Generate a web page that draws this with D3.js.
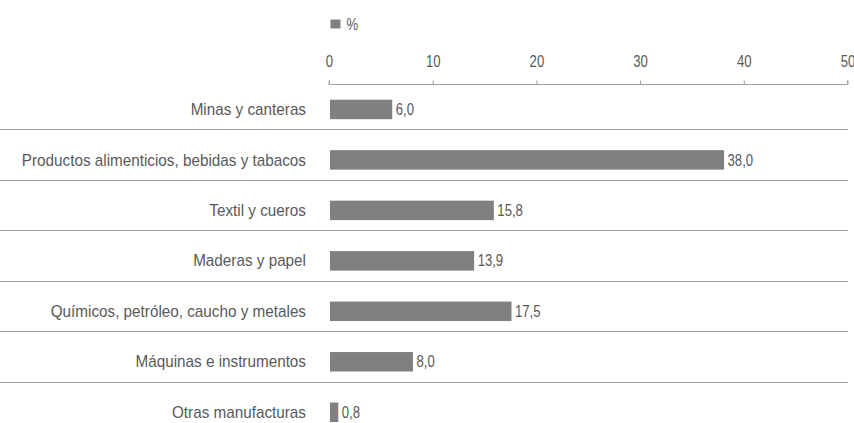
<!DOCTYPE html>
<html>
<head>
<meta charset="utf-8">
<script src="https://cdn.jsdelivr.net/npm/d3@7"></script>
<style>
  html, body { margin: 0; padding: 0; background: #ffffff; }
  svg { display: block; }
  text { font-family: "Liberation Sans", Arial, sans-serif; fill: #595959; }
</style>
</head>
<body>
<svg id="chart" width="854" height="423"></svg>
<script>
// Sector shares (%)
const categories = [
  "Minas y canteras",
  "Productos alimenticios, bebidas y tabacos",
  "Textil y cueros",
  "Maderas y papel",
  "Químicos, petróleo, caucho y metales",
  "Máquinas e instrumentos",
  "Otras manufacturas"
];
const values = [6.0, 38.0, 15.8, 13.9, 17.5, 8.0, 0.8];
const tickValues = [0, 10, 20, 30, 40, 50];
const seriesName = "%";

const svg = d3.select("#chart");
const barColor = "#808080";
const ruleColor = "#a0a0a0";
const fontSize = 16;
const numStretch = 0.82;   // condensed look for numbers
const labelStretch = 0.955;

const x = d3.scaleLinear().domain([0, 50]).range([329, 847.5]);
const y = d3.scaleBand().domain(categories).range([99.7, 422]).paddingInner(0.614).paddingOuter(0);

const fmt = v => v.toFixed(1).replace(".", ",");

// Draw a horizontally condensed text anchored at (px, py)
function condensed(sel, px, py, s) {
  sel.attr("x", 0).attr("y", 0)
     .attr("transform", (d, i) => `translate(${px(d, i)},${py(d, i)}) scale(${s},1)`);
}

// Legend
svg.append("rect").attr("x", 330.5).attr("y", 19.5).attr("width", 10).attr("height", 9).attr("fill", barColor);
svg.append("text").attr("font-size", fontSize).text(seriesName)
  .call(condensed, () => 346.5, () => 30, numStretch);

// Top axis
const axis = d3.axisTop(x).tickValues(tickValues).tickSize(4).tickPadding(0).tickFormat(d3.format("d"));
const gAxis = svg.append("g").attr("transform", "translate(0,84.5)").call(axis);
gAxis.select(".domain").attr("stroke", ruleColor).attr("d", `M${x(0)},-4V0H${x(50)}V-4`);
gAxis.selectAll(".tick line").attr("stroke", ruleColor);
gAxis.selectAll(".tick text")
  .attr("font-size", fontSize).attr("fill", "#595959")
  .style("font-family", "\"Liberation Sans\", Arial, sans-serif")
  .attr("dy", null)
  .call(condensed, () => 0, () => -17.5, numStretch);

// Separator rules between categories
svg.append("g").selectAll("line")
  .data(categories.slice(0, -1))
  .join("line")
  .attr("x1", 0).attr("x2", 848)
  .attr("y1", d => Math.round(y(d) + y.bandwidth() + 10) + 0.5)
  .attr("y2", d => Math.round(y(d) + y.bandwidth() + 10) + 0.5)
  .attr("stroke", ruleColor).attr("stroke-width", 1);

// Bars
svg.append("g").selectAll("rect")
  .data(values)
  .join("rect")
  .attr("x", x(0) + 1)
  .attr("y", (d, i) => y(categories[i]))
  .attr("width", d => x(d) - x(0))
  .attr("height", y.bandwidth())
  .attr("fill", barColor);

// Value labels
svg.append("g").selectAll("text")
  .data(values)
  .join("text")
  .attr("dy", "0.35em")
  .attr("font-size", fontSize)
  .text(d => fmt(d))
  .call(condensed, d => x(d) + 4.5, (d, i) => y(categories[i]) + y.bandwidth() / 2, numStretch);

// Category labels
svg.append("g").selectAll("text")
  .data(categories)
  .join("text")
  .attr("dy", "0.35em")
  .attr("text-anchor", "end")
  .attr("font-size", fontSize)
  .text(d => d)
  .call(condensed, () => 306, d => y(d) + y.bandwidth() / 2, labelStretch);
</script>
</body>
</html>
